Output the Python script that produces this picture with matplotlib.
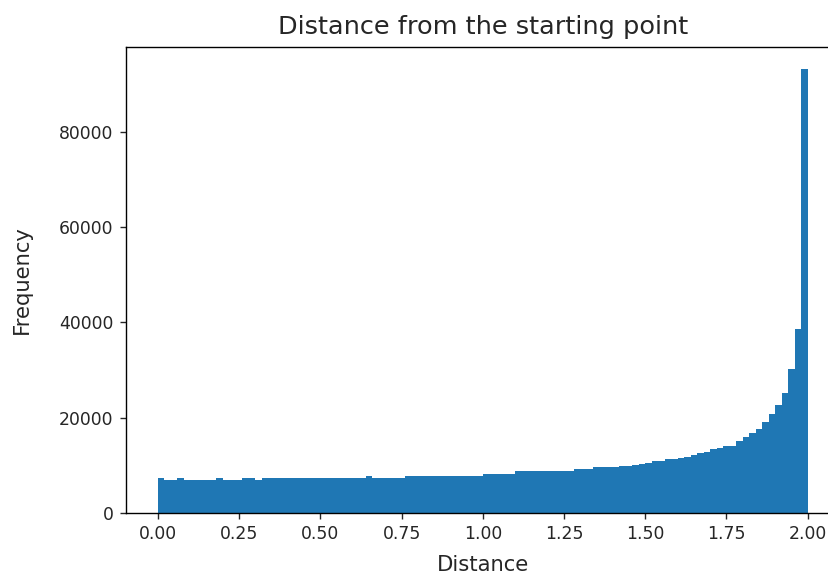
import numpy as np
import matplotlib
matplotlib.use("Agg")
import matplotlib.pyplot as plt

# Histogram counts (100 bins of width 0.02 on [0, 2])
counts_start = [7250, 6900, 6900, 7250, 6900, 6900, 6900, 6900, 6900, 7250,
                6900, 6900, 6900, 7250, 7250, 6950]
counts_flat = [7250] * 16 + [7650] + [7250] * 5
counts_mid = [7700] * 12 + [8200] * 5 + [8750] * 9 + [9200] * 3 + [9550] * 4 + [9800, 9800]
counts_tail = [10100, 10300, 10500, 10800, 10900, 11200, 11300, 11400, 11800, 12200,
               12600, 12800, 13300, 13500, 14000, 14100, 15000, 15900, 16800, 17700,
               19000, 20700, 22600, 25200, 30300, 38700, 93300]
counts = np.array(counts_start + counts_flat + counts_mid + counts_tail, dtype=float)

bin_min, bin_max, n_bins = 0.0, 2.0, 100
edges = np.linspace(bin_min, bin_max, n_bins + 1)

title = "Distance from the starting point"
xlabel = "Distance"
ylabel = "Frequency"

DPI = 124.5
fig = plt.figure(figsize=(828 / DPI, 576 / DPI), dpi=DPI)
ax = fig.add_axes([125.5 / 828, 1 - 512.7 / 576, (840.2 - 125.5) / 828, (512.7 - 46.7) / 576])

ax.stairs(counts, edges, fill=True, color="#1f77b4", linewidth=0)

ax.set_xticks(np.arange(0, 2.01, 0.25))
ax.set_xticklabels([f"{v:.2f}" for v in np.arange(0, 2.01, 0.25)])
ax.set_yticks([0, 20000, 40000, 60000, 80000])
ax.tick_params(labelsize=10, colors="#262626")

ax.set_title(title, fontsize=14.8, pad=7.5, color="#262626")
ax.set_xlabel(xlabel, fontsize=12.2, labelpad=7.2, color="#262626")
ax.set_ylabel(ylabel, fontsize=12.2, labelpad=15.7, color="#262626")

fig.savefig("out.png", dpi=DPI)
